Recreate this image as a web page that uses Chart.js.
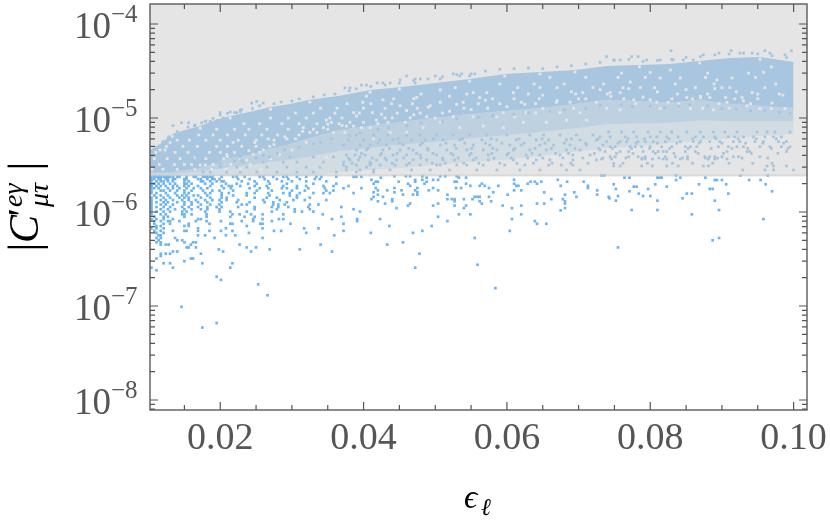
<!DOCTYPE html>
<html>
<head>
<meta charset="UTF-8">
<title>C' vs epsilon</title>
<script src="https://cdn.jsdelivr.net/npm/chart.js"></script>
<style>
  body { margin: 0; background: #fff; }
  canvas { display: block; }
</style>
</head>
<body>
<canvas id="chart" width="830" height="531"></canvas>
<script>
// units: eps values are x 10^-3, C values are x 10^-6
var xMajor = [0.02, 0.04, 0.06, 0.08, 0.10];
var xMinor = [0.015, 0.025, 0.03, 0.035, 0.045, 0.05, 0.055, 0.065, 0.07, 0.075, 0.085, 0.09, 0.095];
var yMajor = [1e-4, 1e-5, 1e-6, 1e-7, 1e-8];
var yExponents = ['\u22124', '\u22125', '\u22126', '\u22127', '\u22128'];
var yMinor = [9e-5,8e-5,7e-5,6e-5,5e-5,4e-5,3e-5,2e-5,9e-6,8e-6,7e-6,6e-6,5e-6,4e-6,3e-6,2e-6,
              9e-7,8e-7,7e-7,6e-7,5e-7,4e-7,3e-7,2e-7,9e-8,8e-8,7e-8,6e-8,5e-8,4e-8,3e-8,2e-8,9e-9,8e-9];
var limit = 2.45;

// dense part of the cloud, read at these eps
var bandEps   = [10.2,11.6,13.3,15.1,17.2,19.3,21.4,24.1,27,29.7,32.5,36.7,40.9,45,50,54.8,59.7,64.6,69.5,74,78.5,82.7,86.9,91.1,95.3,100];
var bandTop   = [4.57,5.29,6.76,7.45,8.2,9.5,10.5,11.6,13.1,14.1,15.6,17.2,19.9,21.3,23.6,26,29.4,30.9,32.4,35.8,36.7,37.5,40.4,43.4,44.5,39.4];
var bandCore  = [2.66,2.66,2.66,2.8,2.94,3.32,3.75,4.04,4.68,5.29,6.12,7.45,8.2,9.07,10,11,11.9,12.8,14.1,15.6,15.2,14.5,15.6,14.1,13.5,12.8];
var bandMid   = [2.55,2.55,2.55,2.6,2.7,2.85,3.0,3.15,3.4,3.6,3.9,4.45,4.8,5.2,5.6,6.1,6.5,7.1,7.8,8.6,8.8,8.9,9.4,9.3,9.3,9.3];
var bandFloor = [2.45,2.45,2.45,2.45,2.45,2.45,2.45,2.45,2.45,2.45,2.45,2.66,2.8,2.94,3.16,3.4,3.58,3.94,4.35,4.79,5.04,5.43,5.7,6.12,6.43,6.76];

// empty cells seen inside the dense part
var gapC = [34.9,32.4,30.5,26.7,25.4,24.1,21.1,19.9,18.6,17.1,16.5,15.6,14.7,13.5,12.6,12.2,11.4,10.3,9.5,9,8.2,7.9,7,6,5.5,4.57,4.1,3.8,3.58,3.16,
            6.4,7.8,10,12.4,14.8,18.9,20.3,24.7,28,29.5,30.9,35,38.5,42.3,
            3.9,4.5,5.2,6,7,8.3,9,10,10.8,11.8,12.3,13.2,14,15.3,16,17,16.7,16,17,16.5,15.2,14.4,
            5,6.3,7.2,8.6,10.5,11,12,13,14,15.5,16,17.5,19,20,20.5,19,20,20.5,19,18,17.5,
            30,27,23,21,18,16,14.2,12.7,11.3,10,8.7,7.6,6.6,5.8,5,4.3,3.7,3.2,2.85];
var gapE = [
  [96.9],[82.8],[80,95.8],[84.2,81.4,91.4],[89.3],[77.2],
  [86.3,78.6,91.1,72,64.6],[50.7],
  [75.8,74.4,94.2,70.6,57.2,60.9,55.3],[52,40.4],
  [92.8,88.3,85.1,87,47.4,56.2],[80,77.7,42.7],
  [82.5,80.9,90.7,62,53.9,72.5,39.9,68.8,66.9,50.7],[93.5,49.3,45.1],
  [95.3,98.8,81.4,85.6,96.9,65],[75.8,88.8],
  [59.5,62.7,70.2,67.4,38.6,41.2],[48.8,52.5,55.3,58.6,61.1],
  [68.3,71.1,41.8,34.8],[43.4,45.8,38.1,50.7,62.3,65.5,35.5],
  [56.7,37.6,38.6],[40.9,48.3,53.4,59.5,39.7,31.6,34.4],
  [43.7,46,37.4,35.8,32.5],[29.3,26.7,41.4],[13,24.8,21.8,32],
  [11.6,12.3,26,30],[20.9,28.3,24.6],[16.5,34.8],[23.7],[17.2,17.9],
  [13.3],[17.2],[21.4],[27],[32.5],[40.9],[45],[54.8],[59.7],[64.6],[69.5],[78.5],[86.9],[95.3],
  [21],[24],[27.5],[30.5],[33.5],[37],[40],[44],[47],[52],[55],[60],[62.5],[67],[70],[74.5],[79],[83],[87],[90.5],[93],[97],
  [25],[29],[31.5],[35],[39],[42.5],[46],[49],[53],[57],[61],[65],[69],[73],[77],[81],[85],[89],[92],[95],[98.5],
  [76,88,93.7],
  [66,71,75.5,79.3,87.7,94.7],
  [59,63.8,68,73.5,83.5,88.9,97.5],
  [52.8,61.5,67,76.2,80.6,90,96],
  [48,54.4,63,69.6,74,83.8,88,98],
  [44.2,47,58,64.5,71,76.3,85.9,91.8,95],
  [37.7,41,43.9,46.8,56,59,64,78,84,89.6,94],
  [34,36.3,40,43,47.5,54,57.3,69.3,73.9,87.3,91],
  [30.5,33,36,39.4,44.7,47.9,51,64],
  [27,29.5,32,35.3,37,43,46.5,50],
  [23.3,25.5,28.6,31,33.5,36.6,42],
  [19.5,22,24,26.5,29.5,33,35],
  [17,19,21,23.5,25.8,28,31],
  [14,15.7,18,20,22.5,25,27.5],
  [12.5,14.8,16.8,19.5,21,23,26.9],
  [11,13.7,15.5,18.5,20,22,25.5],
  [10.8,12.6,14.4,18,20.5,22.8,27],
  [11.5,13.6,15,16,19,21.5,24.2],
  [10.5,12,14,16.5,18.8,20.8,22.8,25.7]
];

// single points inside the grey zone, one row per C value
var upC = [52,49,47,45,41.4, 20.9,22.4,23.6,25.4,26,28,29.5,
           8.3,8.9,9.2,9.4,10,11.4,11.6,12.1,14.4,15,6.6,5.84,5.16,
           2.8,3.09,3.66,3.87,4.4,4.95,5.6,6.3,7.1,
           2.8,3.16,3.58,4.04,4.57,5.16,5.84,6.6,
           2.66,3.0,3.4,3.85,
           3.3,3.75,4.2,4.75,5.4,6,
           5.6,6.3,7.2,8,8.4,9.3,9.9,10.8,11.2,11.4,12.3,12.6,13.5,14.2,14.8,15.2,16,16.8,17.6,18,19.5,20.5,21.7,22.4,23.5,25,26,27.5,29,29.5,31.5,33,33.5,34,33.5,35,36,37.5,39,41,42,40,41,42,44,45,47,48,49,48,46,44,
           3.3,3.5,3.55,3.75,4,4.2,4.6,4.9,5.3,5.5,6,6.5,6.9,7.6,7.9,8.3,8.9,9.1,9.8,10.2,10.6,10.9,11.3,11.8,12.2,12.5,13.6,13.8,13.3,13.5,12.9,13.4,13.9,13.4,12.6,12.4,11.9,12,11.5,11.3];
var upE = [
  [82.9,99.7,91.3,96],
  [89.6,92.5,94.2,96.7],
  [87.4,98.8],
  [77.4,78.3,73.9],
  [74.9,75.8,79.5,81.4,83.2,84.6,86],
  [37.4,38.1],
  [39.7,40.4],
  [41.9,42.7,43.7,47.2],
  [45.1],
  [47.2,47.9,50.7],
  [46,50,53.4,54.8],
  [52.5,53.7,55.5],
  [13.4,16.4],
  [14.6,15.6,17.4],
  [17.9,18.6],
  [19.6],
  [20.4],
  [20,22.3],
  [21.4,22.8],
  [22.8],
  [24.4,26],
  [25.1],
  [14.5],[12.9],[12.1],
  [96,97.2,92.9,100],
  [74.9,75.8,78.8,80.3,82.3,83.9,87.4,88.1,96.3,97.2,99],
  [73.2,74.6,78.8,79.3,80.3,81.8,82.3,84.2,85.2,88.1,89,90.7],
  [74.4,75.1,77,78.3,79.3,82.1,83.5,85.2,87.6,88.3,89,90,91.6,92.3,95.3],
  [73.7,75.8,77,79,80.4,81.1,81.8,82.3,84.9,86.3,90.7,93.5,93.9,99],
  [74.4,75.1,77.2,77.9,78.8,80,81.6,83,84.9,85.6,86.5,89.5,90.9,92.1,93,95.3,96.7,98.3,99.5],
  [73.9,75.8,76.7,78.3,79.3,80.4,82.1,84.2,86,87,88.3,89.7,91.6,92.5,94.6,95.8,97.9,99],
  [73,74.4,76.5,78.1,80,80.9,82.3,83.9,86.3,87.4,89,90.9,91.8,93,94.4,96,97.2,98.3],
  [74.2,76,77.7,79.7,81.4,83,85.1,87,88.8,90.4,92.1,94.9,96.3,97.4,99.5],
  [37.6,39.5,41.4,43.7,46.7,49.3,52,55.8,58.6,61.8,64.6,68.3,70.2],
  [37.2,39,40.9,42.3,44.4,46,47.9,50.2,50.7,53,54.4,56.7,59.7,62.5,65.8,67.6,69.2],
  [38.1,39.3,41.8,43.2,44.6,46.9,48.8,51.1,52.7,55.3,57.4,60.9,64.1,66,69.2,72.5],
  [37.6,38.8,40.2,42.3,44.1,46,47.9,50.2,52.5,54.8,57.4,60,62.7,64.6,67.4,69.2,71.6],
  [39,40.4,42.7,45.1,46.9,49,51.6,54.4,56.7,58.6,60.9,63.2,65.5,68.3,70.2,73],
  [37.2,39.5,40.9,43.2,45.5,47.9,50.7,52.7,55.3,57.6,60.4,62,64.6,66.5,68.8,71.1,73.4],
  [37.9,40,42.3,44.1,46.7,48.6,51.1,53.4,56.5,58.6,61.3,64.1,65.8,68.3,70.2,72.5],
  [39,41.4,43.4,46,47.9,50.2,52.5,54.8,57.2,60,63.2,65.1,67.4,69.7,72],
  [17.6,18.6,20.9,22.8,25.1,27.9,30.7,33,36.2,39,41.4],
  [16.7,20,22.3,23.7,26.5,29.3,32,33.9,37.6,40.4],
  [16.2,19.5,23.2,26,28.8,30.7,34.4,37.2,40.9],
  [16.7,22.8,26.9,29.7,33,35.8,39.5],
  [38.4,41,44,46.4,49.6,51.4,54,56.1,59,61.4,63.7,66.3,68.9,71.3,74.9,76.2,79.6,83.1,85.9,88.7,91,94.3,97],
  [37.9,41.2,43,45.6,48,51,53.2,55.7,58.2,60.6,62.9,65,67.8,70.6,73.4,76.6,78.9,81.2,84.5,87.7,89.4,92.8,96.4],
  [39.7,42.5,44.7,47.4,49.7,52.2,55,57.9,60.2,63.5,66.8,68.6,72.2,75.3,77.6,80.7,83.3,86.7,90.2,94.1,97.8],
  [40.6,43.6,46.3,48.9,52.9,55.1,58,61.1,63.9,66.2,69.5,72.8,74.7,77.4,79.9,82.7,85.3,88.5,91.4,93.6,96.9,99.2],
  [42,45,48.2,51.5,54.1,57,59.3,62.4,65.3,68,71,75.5,78,81,83.7,86.8,90,93.3,95.7,98.6],
  [44.8,49.7,53.8,57.8,61.7,64.9,69,72.7,76.9,79.2,82.6,85.9,89.2,92.3,94.8,97.6],
  [12],[12.8],[14],[15.5],[16.5],[18],[19],[20],[21],[22],[23],[24.5],[25.5],[27.5],[28.5],[30],[31],[33],[34.5],[36],[38],[39],[41],[43],[45],[47],[49],[51],[53],[55],[57],[59],[61],[63],[65],[67],[69],[71],[73],[75],[77],[79],[81],[83],[85],[87],[89],[91],[93],[95],[97],[99],
  [20],[22],[23],[25],[26],[28],[29],[31],[33],[34],[35.5],[38],[39.5],[42],[43.5],[46],[48],[51],[53],[56],[58],[61],[63],[66],[68],[71],[73],[76],[77.5],[80],[82],[84],[85.5],[88],[90],[92],[94],[96],[98],[99.5]
];

// single points under the limit, one row per C value
var lowC = [2.37,2.24,2.12,2.0,1.89,1.79,1.69,1.59,1.5,1.42,1.34,1.27,1.2,1.13,1.07,1.01,.945,.89,.84,.8,.75,.71,.67,.63,.6,.565,.53,.5,.476,.45,.42,.4,.38,.36,.34,.32,.3,.285,.256,.24,.205,.19,.17,.13,.098,.066,.059,.056,
            2.4,2.32,2.2,2.1,2.0,1.9,1.8,1.7,1.62,1.53,1.45,1.37,1.3,1.23,1.17,1.1,1.04,.945,.89,.84,.8,.75,.71,.63,.6,.53,.476,.45,.36,.275,.256,.155,
            2.45,2.32,2.19,1.97,1.86,1.76,1.66,1.57,1.48,1.4,1.32,1.05,.945,.84,.53,.5,.42];
var lowE = [
  [10.4,10.8,11.1,11.4,11.7,12.1,12.4,12.7,13,13.4,14,14.3,15.3,16.3,16.6,17.6,17.9,18.2,18.6,18.9,20.2,21.8,22.3,23.4,25.5,26,27.4,28.8,29.3,30.7,32,33.4,34.1,36.2,38.6,39,39.7],
  [10.4,10.8,11.4,11.7,12.4,12.7,13.4,13.7,15,15.3,16.9,17.3,18.2,18.9,19.2,19.9,22.5,24.1,26.2,27.9,29.5,31.1,33.2,33.9],
  [10.4,11.1,11.7,12.1,12.7,13.4,15,15.6,17.3,17.6,18.6,19.5,20.2,20.5,23,24.8,26.7,28.6,30,32,34.8],
  [10.4,10.8,11.4,12.1,13,13.7,15,15.3,16,17.9,18.9,20.8,22.3,23.9,25.1,26.9,29.3,33,36.2],
  [10.4,11.1,11.7,12.4,13.4,14,15,15.6,16.9,18.6,20.2,21.2,21.6,22.8,24.8,26.5,28.8,30.7,32,34.4,35.8,37.9],
  [10.4,10.8,11.4,12.7,13.4,14.3,15.3,16.3,17.3,18.2,20.5,21.5,24.1,25.5,26.7,28.6,29.3,30.7,32.3,34.6,37.2,39.7],
  [10.4,11.7,12.1,13,14,15,16,17.6,18.9,19.9,21.8,25.1,27.2,30,31.8,34.8,35.8],
  [10.4,11.1,12.4,13.7,15,15.6,17.9,18.6,20.2,21.2,23.7,24.8,26.7,28.8,29.7,31.1,33,34.4,35.3,38.6],
  [10.8,11.7,12.7,14,14.7,15.3,16.3,16.9,18.2,20.2,21.8,23.7,26.9,29.7,30.7],
  [10.4,11.1,12.1,13,14.3,15,15.6,17.3,18.6,20.2,20.9,24.8,26.5,27.9,30.7,32.5],
  [10.4,11.7,12.4,13.4,14.7,15.6,16.6,17.9,18.9,19.9,20.9,22.5,26,28.3,30.2,31.8,34.8],
  [10.4,11.1,12.1,12.7,14,15,16,16.9,18.2,20.2,22.3,24.1,26.2,27.4,29.3],
  [10.4,11.7,12.4,13.4,15,16,17.3,18.6,19.9,23,23.7,27.4,28.1,29,32.5,33.7],
  [10.4,11.1,12.1,13,14.7,15.6,16.9,18.2,19.5,20.2,22.5,24.8,27.2,28.1,29.5,32.3,36.9],
  [10.4,11.7,12.7,13.7,15,16,17.3,18.2,19.9,24.8,27.9,30.4,32.5,38.6],
  [10.4,11.1,12.1,13,14.7,15.3,17.9,19.9,21.4,23.7,27.2,30.4,31.4,33,39.5],
  [10.4,11.7,12.4,14.7,15,16,18.1,21.7,22.7,24.3,25.9,28.8,34.3],
  [10.8,12.1,12.7,15,18.1,21.4,23.4,24.8,36.9],
  [10.4,11.1,12.1,13.4,17.3,16.9,24.6,25.9,28.2,28.8,35.6,39.1],
  [10.8,11.7,12.7,13,14.3,16.6,18.1,20.1,23,24.6,27.2,39.1],
  [10.8,12.1,13,15.6,18.5,21.4,21.7,25.6,25.9,29.8,37.2],
  [11.1,11.7,15,15.6,23.7],
  [9.8,10.4,11.1,12.1,16.9,20.8,25.9,31.7,33.7],
  [10.8,11.7,13.4,15,15.3,16.9,18.5,20.1,21.7,27.5,28.5,37.2],
  [11.1,12.1,24,32],
  [10.1,11.4,11.7,16.9,17.9,20.8,22.1,35.9],
  [11.1,11.7,13.7,19.2,25.9],
  [11.4,14,14.7],
  [11.1,11.7,15,16.2,16.6],
  [10.1,11.7,12.4,12.8,15.9,22.7,34],
  [15.3,15.6,16.6,23.7,25],
  [19.8,26.9,31.1],
  [13.4,14,20.4,24.3,35.6],
  [11.7,12.4,13,17.3],
  [11.7],
  [10.1,11.1,15.9,16.2],
  [15],
  [12.1,13,17.5,21.7],
  [10.4,13.4,21.4],
  [11.1],
  [19.5],
  [20.1],
  [25.3],
  [26.6],
  [14.6],
  [19.5],
  [17.5],
  [10.1],
  [44.3,45.9,46.5,48.2,50.7,51.4,53],
  [42.4,48.8,53.3,54.3],
  [41.1,47.2,48.2,49.7,50.4,61,67.1],
  [41.7,42,44.9,47.2,48.8,52.7,53,63.3,63.9,64.8,68.4,70.7],
  [41.4,46.2,48.5,54.3,56.5,61,62.9,64.2],
  [46.5,54.9,56.2,56.9,58.8,61.3,61.6,67.5,71.3],
  [41.7,44.3,47.5,49.7,52.9,53.6,57.5,71.3],
  [42,43.3,45.3,47.2,49.1,50.4,61,62,72.6],
  [41.4,44.3,47.5,58.1,65.2,69.4],
  [42,45.5,46.9,47.5,51.7,60.1,68.1,72.6],
  [41.4,42.7,55.9,55.5,56.2,57.5,69.7,74.2],
  [41.1,44,51.7,52.3,52.7,54,55.2,66.2,67.8],
  [42,44,52.7,56.2,57.8,68.1],
  [43,46.5,50.4,56.5,64.2,65.2,68.1],
  [46.2,49.7,52.7,54.3,59.4,62],
  [44.6,54,60.7,68.1],
  [67.5],
  [53.3,54.9,62],
  [50.4],
  [42.3,60.7],
  [51.7,63.9],
  [64.2,65.5],
  [43.6,49.5],
  [48.2,60.4],
  [41,46.9],
  [55.5],
  [45.5],
  [43.3],
  [47.8],
  [55.9],
  [47.2],
  [58.4],
  [73.2,73.6,83.6,92.6,96.4],
  [76.4,77.1,81,81.3,81.6,84.2,87.7],
  [83.6,89,89.3,90,93.8,95.4],
  [74.9,80.7,86.8,90.6,96.1],
  [77.7,78.1,82.3],
  [75.2,79.7,88.3,88.7],
  [77.1,97],
  [78.4,85.1,85.8,90.9],
  [75.5,79,80],
  [74.3,84.5],
  [75.2,81,89],
  [77.4,81,89.6],
  [85.8],
  [95.8],
  [89.6],
  [88.7],
  [75.5]
];

var xMin = 0.0102, xMax = 0.10187, yMin = 7.83e-9, yMax = 1.632e-4;

function rowsToPoints(cs, es) {
  var pts = [];
  cs.forEach(function (c, i) {
    es[i].forEach(function (e) { pts.push({ x: e / 1000, y: c * 1e-6 }); });
  });
  return pts;
}
function bandLine(vals) {
  return bandEps.map(function (e, i) { return { x: e / 1000, y: vals[i] * 1e-6 }; });
}

var SERIF = '"Liberation Serif", serif';
var LABEL = '#555555';

// frame, inward ticks, y labels and the math axis titles
var axisDecor = {
  id: 'axisDecor',
  afterDraw: function (chart) {
    var c = chart.ctx, a = chart.chartArea, sx = chart.scales.x, sy = chart.scales.y;
    c.save();
    c.strokeStyle = '#6e6e6e';
    c.lineWidth = 1.6;
    c.strokeRect(a.left, a.top, a.right - a.left, a.bottom - a.top);
    c.lineWidth = 1.2;
    c.strokeStyle = '#555555';
    function xTick(v, len) {
      var p = sx.getPixelForValue(v);
      c.beginPath();
      c.moveTo(p, a.bottom); c.lineTo(p, a.bottom - len);
      c.moveTo(p, a.top); c.lineTo(p, a.top + len);
      c.stroke();
    }
    function yTick(v, len) {
      var p = sy.getPixelForValue(v);
      c.beginPath();
      c.moveTo(a.left, p); c.lineTo(a.left + len, p);
      c.moveTo(a.right, p); c.lineTo(a.right - len, p);
      c.stroke();
    }
    xMajor.forEach(function (v) { xTick(v, 8); });
    xMinor.forEach(function (v) { xTick(v, 5); });
    yMajor.forEach(function (v) { yTick(v, 8); });
    yMinor.forEach(function (v) { yTick(v, 5); });

    // 10^n labels
    c.fillStyle = LABEL;
    c.textBaseline = 'alphabetic';
    yMajor.forEach(function (v, i) {
      var p = sy.getPixelForValue(v);
      c.textAlign = 'right';
      c.font = '37px ' + SERIF;
      c.fillText('10', 111, p + 14);
      c.textAlign = 'left';
      c.font = '25px ' + SERIF;
      c.fillText(yExponents[i], 111, p - 2);
    });

    // x title
    c.fillStyle = '#000';
    c.textAlign = 'left';
    c.font = 'italic 33px ' + SERIF;
    c.fillText('\u03f5', 464, 508);
    c.font = 'italic 24px ' + SERIF;
    c.fillText('\u2113', 481, 515);

    // y title, written sideways
    function side(txt, font, px, py, align) {
      c.save();
      c.translate(px, py);
      c.rotate(-Math.PI / 2);
      c.font = font;
      c.textAlign = align || 'left';
      c.fillText(txt, 0, 0);
      c.restore();
    }
    side('|', '44px ' + SERIF, 39, 247, 'center');
    side('|', '44px ' + SERIF, 39, 166, 'center');
    side('C', 'italic 42px ' + SERIF, 38, 243);
    side('\'', 'italic 40px ' + SERIF, 35, 219);
    side('e\u03b3', 'italic 28px ' + SERIF, 22, 207);
    side('\u03bc\u03c4', 'italic 28px ' + SERIF, 48, 207);
    c.restore();
  }
};

new Chart(document.getElementById('chart'), {
  type: 'scatter',
  data: {
    datasets: [
      { // grey excluded zone lies over the cloud
        data: [{ x: xMin, y: limit * 1e-6 }, { x: xMax, y: limit * 1e-6 }],
        showLine: true, pointRadius: 0, borderWidth: 2, borderColor: 'rgba(195,195,195,0.5)',
        backgroundColor: 'rgba(209,209,209,0.56)', fill: 'end', order: 0
      },
      {
        data: rowsToPoints(upC, upE).concat(rowsToPoints(lowC, lowE)),
        backgroundColor: '#6db5f0', borderWidth: 0, pointStyle: 'rect', pointRadius: 1.9, order: 1
      },
      {
        data: rowsToPoints(gapC, gapE),
        backgroundColor: '#ffffff', borderWidth: 0, pointStyle: 'rect', pointRadius: 2, order: 2
      },
      {
        data: bandLine(bandTop), showLine: true, pointRadius: 0, borderWidth: 0,
        backgroundColor: 'rgba(109,181,240,0.95)', fill: 4, order: 3
      },
      {
        data: bandLine(bandCore), showLine: true, pointRadius: 0, borderWidth: 0,
        backgroundColor: 'rgba(109,181,240,0.62)', fill: 5, order: 4
      },
      {
        data: bandLine(bandMid), showLine: true, pointRadius: 0, borderWidth: 0,
        backgroundColor: 'rgba(109,181,240,0.3)', fill: 6, order: 5
      },
      {
        data: bandLine(bandFloor), showLine: true, pointRadius: 0, borderWidth: 0, fill: false, order: 6
      }
    ]
  },
  plugins: [axisDecor],
  options: {
    responsive: false,
    animation: false,
    layout: { autoPadding: false, padding: { top: 4, right: 23, left: 0, bottom: 0 } },
    plugins: { legend: { display: false }, tooltip: { enabled: false } },
    scales: {
      x: {
        type: 'linear', min: xMin, max: xMax,
        // last label hangs past the frame, do not let it shrink the plot
        afterFit: function (s) { s.height = 121; s.paddingLeft = 0; s.paddingRight = 0; },
        afterBuildTicks: function (s) { s.ticks = xMajor.map(function (v) { return { value: v }; }); },
        grid: { display: false, drawTicks: false }, border: { display: false },
        ticks: {
          autoSkip: false, maxRotation: 0, padding: 6, color: LABEL,
          font: { family: 'Liberation Serif', size: 38 },
          callback: function (v) { return v.toFixed(2); }
        }
      },
      y: {
        type: 'logarithmic', min: yMin, max: yMax,
        afterFit: function (s) { s.width = 150; },
        grid: { display: false, drawTicks: false }, border: { display: false },
        ticks: { display: false }
      }
    }
  }
});
</script>
</body>
</html>
